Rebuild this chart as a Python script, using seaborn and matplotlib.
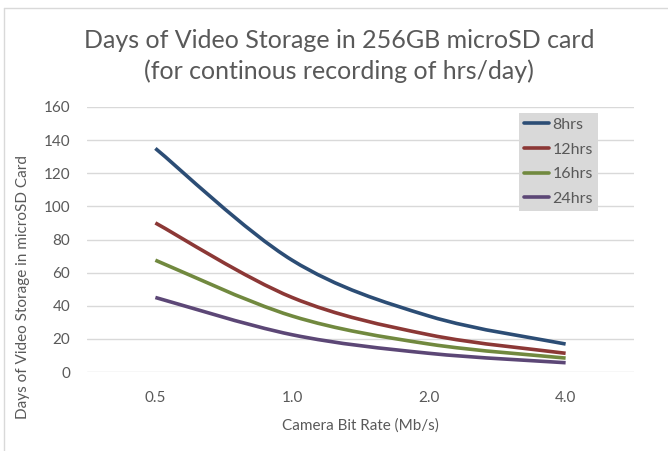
import seaborn as sns
import numpy as np
import matplotlib.pyplot as plt
from matplotlib.path import Path
from matplotlib.patches import PathPatch
from matplotlib.lines import Line2D

# data
bit_rates = ['0.5', '1.0', '2.0', '4.0']
hours = ['8hrs', '12hrs', '16hrs', '24hrs']
days_8 = [135, 67.5, 33.8, 16.9]
days_12 = [90, 45, 22.5, 11.3]
days_16 = [67.5, 33.8, 16.9, 8.4]
days_24 = [45, 22.5, 11.3, 5.6]
colors = ['#2C4D75', '#8C3836', '#71893F', '#5C4776']

sns.set_theme(style='white')
plt.rcParams['font.family'] = ['Lato', 'DejaVu Sans']
txt = '#595959'

fig = plt.figure(figsize=(6.68, 4.51), dpi=100)
ax = fig.add_axes([87 / 668, 1 - 372 / 451, 547 / 668, 265 / 451])


def smooth_path(xs, ys):
    # excel-style smoothed line: bezier with catmull-rom control points
    pts = np.column_stack([xs, ys]).astype(float)
    n = len(pts)
    verts = [pts[0]]
    codes = [Path.MOVETO]
    for i in range(n - 1):
        p0 = pts[max(i - 1, 0)]
        p1 = pts[i]
        p2 = pts[i + 1]
        p3 = pts[min(i + 2, n - 1)]
        c1 = p1 + (p2 - p0) / 6
        c2 = p2 - (p3 - p1) / 6
        verts += [c1, c2, p2]
        codes += [Path.CURVE4] * 3
    return Path(verts, codes)


x = np.arange(len(bit_rates))
series = [days_8, days_12, days_16, days_24]
for vals, c in zip(series, colors):
    ax.add_patch(PathPatch(smooth_path(x, vals), facecolor='none',
                           edgecolor=c, lw=2.6, capstyle='butt'))

ax.set_xlim(-0.5, len(bit_rates) - 0.5)
ax.set_ylim(0, 160)
ax.set_yticks(range(0, 161, 20))
ax.set_xticks(x)
ax.set_xticklabels(bit_rates)
ax.grid(axis='y', color='#D9D9D9', lw=1)
ax.set_axisbelow(True)
for s in ax.spines.values():
    s.set_visible(False)
ax.tick_params(axis='both', length=0, labelsize=11, colors=txt)
ax.tick_params(axis='y', pad=12)
ax.tick_params(axis='x', pad=13.5)

ax.set_xlabel('Camera Bit Rate (Mb/s)', fontsize=11, color=txt)
ax.set_ylabel('Days of Video Storage in microSD Card', fontsize=11, color=txt)
ax.xaxis.set_label_coords(0.499, -0.174)
ax.yaxis.set_label_coords(-0.104, 0.32)

fig.text(339 / 668, 1 - 40 / 451, 'Days of Video Storage in 256GB microSD card',
         ha='center', va='center', fontsize=18, color=txt)
fig.text(339 / 668, 1 - 71 / 451, '(for continous recording of hrs/day)',
         ha='center', va='center', fontsize=18, color=txt)

handles = [Line2D([], [], color=c, lw=2.6) for c in colors]
leg = ax.legend(handles, hours, loc='upper right', bbox_to_anchor=(0.934, 0.977),
                fontsize=11.5, frameon=True, facecolor='#D9D9D9', edgecolor='none',
                framealpha=1, fancybox=False, handlelength=1.6, handletextpad=0.2,
                labelspacing=0.65, borderpad=0.3, borderaxespad=0)
for t in leg.get_texts():
    t.set_color(txt)

# chart frame
fig.add_artist(Line2D([4 / 668, 4 / 668], [0, 1 - 8 / 451], color='#D9D9D9', lw=1))
fig.add_artist(Line2D([4 / 668, 1], [1 - 8 / 451, 1 - 8 / 451], color='#D9D9D9', lw=1))

fig.savefig('out.png', dpi=100)
